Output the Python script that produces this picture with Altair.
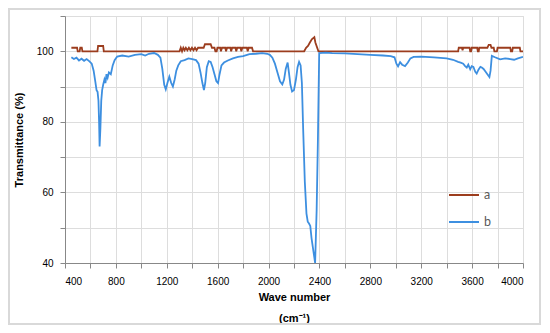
import altair as alt
import pandas as pd

# Series b (blue)
b_wn = [450, 470, 490, 510, 530, 550, 570, 590, 610, 625, 638, 648, 656, 663, 668, 672, 678, 685, 692,
        700, 710, 718, 726, 735, 745, 760, 775, 790, 810, 850, 900, 950, 1000, 1030, 1060, 1100,
        1130, 1150, 1165, 1180, 1192, 1205, 1220, 1235, 1248, 1262, 1275, 1290, 1310, 1340, 1370,
        1400, 1430, 1450, 1465, 1480, 1492, 1502, 1515, 1530, 1545, 1560, 1575, 1590, 1603, 1615,
        1630, 1650, 1680, 1720, 1760, 1800, 1850, 1900, 1950, 1990, 2010, 2030, 2050, 2070, 2090,
        2108, 2122, 2135, 2150, 2160, 2172, 2185, 2200, 2215, 2228, 2240, 2252, 2262, 2272, 2285,
        2298, 2308, 2318, 2328, 2338, 2350, 2360, 2366, 2378, 2388, 2398, 2450, 2500, 2600, 2700,
        2800, 2900, 2960, 2990, 3005, 3018, 3034, 3050, 3073, 3095, 3115, 3140, 3200, 3300, 3400,
        3450, 3490, 3510, 3530, 3545, 3558, 3570, 3585, 3597, 3610, 3625, 3636, 3650, 3665, 3676,
        3690, 3702, 3720, 3736, 3745, 3755, 3780, 3820, 3860, 3900, 3930, 3960, 4000]
b_val = [98.3, 97.8, 98.2, 97.4, 97.9, 97.3, 97.8, 97.2, 96.5, 94.5, 91.5, 89.0, 88.5, 86.0, 80.0, 73.0,
         78.0, 86.0, 89.0, 90.5, 92.0, 91.0, 93.5, 92.5, 94.0, 93.5, 96.0, 97.5, 98.5, 98.8, 98.5,
         99.0, 99.2, 98.8, 99.3, 99.5, 99.0, 98.2, 95.0, 90.5, 89.2, 91.0, 92.8, 91.0, 90.0, 92.0,
         94.5, 96.0, 97.2, 97.5, 98.0, 97.8, 97.5, 96.5, 94.0, 91.0, 89.0, 91.0, 95.5, 97.2, 97.0,
         95.5, 93.5, 91.5, 91.0, 93.5, 96.0, 96.8, 97.4, 98.0, 98.4, 98.6, 99.2, 99.3, 99.5, 99.3,
         99.0, 98.2, 96.5, 94.0, 91.5, 90.6, 92.0, 95.0, 96.8, 94.0, 90.5, 88.6, 89.0, 92.0, 95.5,
         97.0, 96.0, 91.0, 78.0, 63.0, 54.0, 51.7, 51.2, 50.5, 47.0, 44.0, 41.5, 40.0, 55.0, 75.0,
         99.5, 99.6, 99.5, 99.4, 99.2, 99.0, 98.8, 98.6, 98.3, 96.5, 95.7, 96.9, 96.2, 95.8, 96.8,
         98.0, 98.4, 98.5, 98.3, 98.0, 97.6, 97.0, 96.8, 96.5, 95.8, 95.4, 96.2, 94.9, 95.8, 95.6,
         94.2, 93.7, 94.8, 95.6, 95.4, 95.0, 94.4, 93.5, 92.7, 94.5, 98.7, 98.3, 97.7, 98.0, 97.8,
         97.6, 98.0, 98.4]

# Series a (dark red)
a_wn = [450, 495, 500, 515, 520, 532, 537, 655, 660, 700, 705, 1300, 1310, 1320, 1330, 1340, 1350,
        1362, 1374, 1386, 1398, 1410, 1422, 1434, 1446, 1490, 1500, 1545, 1555, 1575, 1582, 1592,
        1598, 1620, 1626, 1634, 1660, 1666, 1674, 1700, 1706, 1714, 1740, 1746, 1754, 1780, 1786,
        1794, 1830, 1836, 1844, 1870, 1878, 2280, 2295, 2310, 2325, 2340, 2360, 2368, 2392, 3490,
        3495, 3520, 3525, 3530, 3580, 3585, 3592, 3597, 3640, 3645, 3652, 3656, 3720, 3730, 3745,
        3752, 3770, 3775, 3795, 3800, 3900, 3905, 3915, 3920, 3975, 3980, 4000]
a_val = [101, 101, 100, 100, 101, 101, 100, 100, 101.5, 101.5, 100, 100, 101, 100, 101, 100.3, 101,
         100.3, 101, 100.3, 101, 100.3, 101, 100.3, 101, 101, 102, 102, 101, 101, 100, 100,
         101, 101, 100, 101, 101, 100, 101, 101, 100, 101, 101, 100, 101, 101, 100,
         101, 101, 100, 101, 101, 100, 100, 101, 101.5, 102.5, 103.4, 104, 102.5, 100, 100,
         101, 101, 100.3, 101, 101, 100, 100, 101, 101, 100, 100, 101, 101, 101.8, 101.8,
         101, 101, 100, 100, 101, 101, 100, 100, 101, 101, 100, 100]

x_ticks = list(range(400, 4001, 200))
y_ticks = list(range(40, 111, 10))

df = pd.concat([
    pd.DataFrame({"wn": a_wn, "T": a_val, "series": "a", "o": range(len(a_wn))}),
    pd.DataFrame({"wn": b_wn, "T": b_val, "series": "b", "o": range(len(b_wn))}),
])

FONT = "Lato"

lines = alt.Chart(df).mark_line(strokeWidth=1.8, clip=True).encode(
    x=alt.X("wn:Q",
            scale=alt.Scale(domain=[400, 4000], nice=False, zero=False),
            axis=alt.Axis(values=x_ticks, format="d",
                          labelExpr="datum.value % 400 == 0 ? datum.label : ''",
                          labelPadding=8,
                          title=["Wave number", "(cm⁻¹)"], titleLineHeight=21,
                          titlePadding=5)),
    y=alt.Y("T:Q",
            scale=alt.Scale(domain=[40, 110], nice=False, zero=False),
            axis=alt.Axis(values=y_ticks,
                          labelExpr="(datum.value % 20 == 0 && datum.value <= 100) ? datum.label : ''",
                          labelPadding=7,
                          title="Transmittance (%)", titlePadding=12)),
    color=alt.Color("series:N",
                    scale=alt.Scale(domain=["a", "b"], range=["#9C3D1E", "#3D8FE0"]),
                    legend=alt.Legend(orient="none", legendX=383, legendY=163, title=None,
                                      symbolType="stroke", symbolSize=900,
                                      symbolStrokeWidth=2, labelFontSize=12.5,
                                      labelColor="#595959", labelFont=FONT,
                                      rowPadding=4)),
    order="o:Q",
)

frame = alt.Chart(df).mark_rect(fill=None, stroke="#d9d9d9", strokeWidth=1.5, clip=False).encode(
    x=alt.value(-56), x2=alt.value(475), y=alt.value(-7), y2=alt.value(308)
)

chart = alt.layer(frame, lines).properties(
    width=458, height=247,
    autosize=alt.AutoSizeParams(type="none"),
    padding={"left": 57, "top": 8, "right": 19, "bottom": 62},
).configure_view(stroke="black", strokeWidth=1.5).configure_axis(
    grid=False, domainColor="black", domainWidth=1.5, tickColor="black", tickSize=4,
    tickWidth=1.2, labelColor="#595959", labelFontSize=12.5, labelFont=FONT,
    titleFont=FONT, titleFontSize=14.5, titleFontWeight="bold", titleColor="black",
).configure(background="white")

chart.save("out.html", embed_options={"renderer": "svg", "actions": False})
